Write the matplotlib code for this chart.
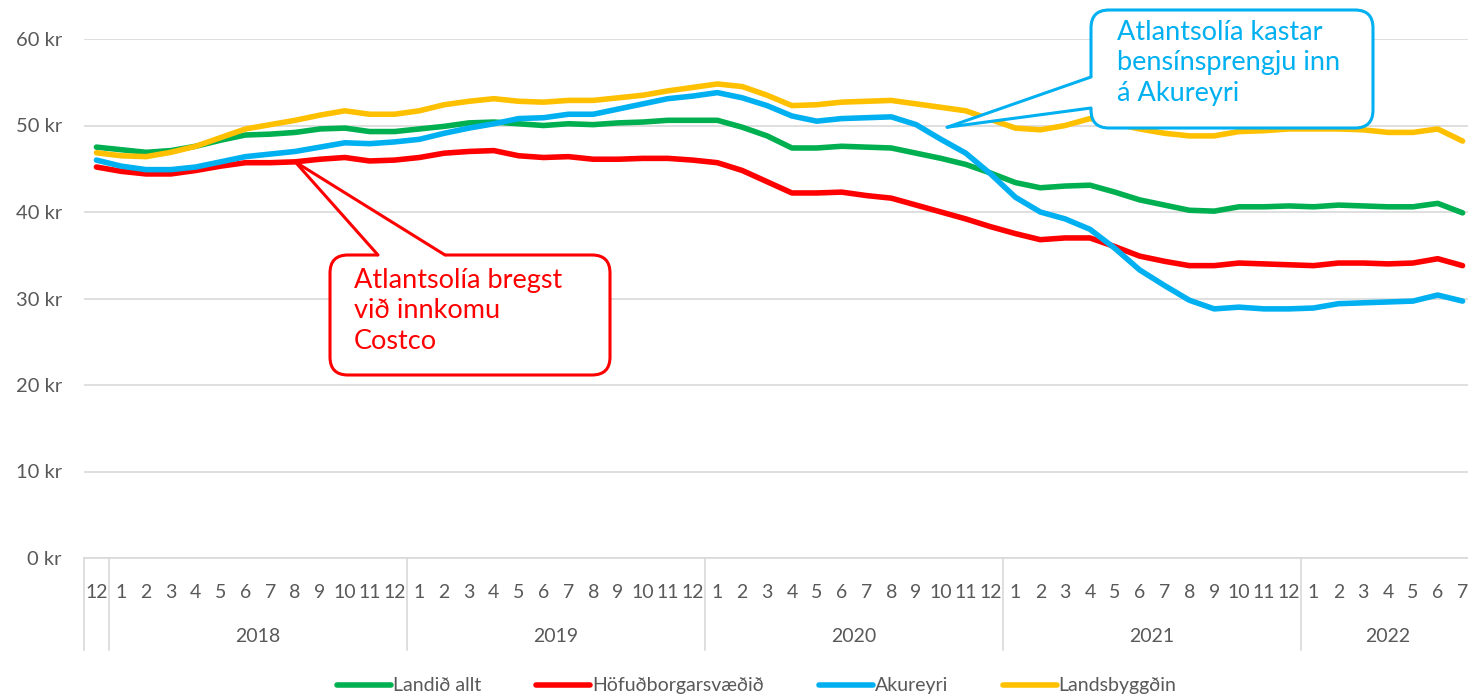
import matplotlib
matplotlib.use('Agg')
import matplotlib.pyplot as plt
import matplotlib.transforms as mtransforms
from matplotlib.patches import FancyBboxPatch, Polygon
from matplotlib.lines import Line2D

plt.rcParams['font.family'] = ['Lato', 'DejaVu Sans']

# ---------------- data ----------------
months = ['12'] + [str(m) for m in range(1, 13)] * 4 + [str(m) for m in range(1, 8)]
years = ['', '2018', '2019', '2020', '2021', '2022']
year_sizes = [1, 12, 12, 12, 12, 7]

landid_allt = [47.5, 47.2, 46.9, 47.1, 47.6, 48.3, 48.9, 49.0, 49.2, 49.6, 49.7, 49.3, 49.3,
               49.6, 49.9, 50.3, 50.4, 50.2, 50.0, 50.2, 50.1, 50.3, 50.4, 50.6, 50.6,
               50.6, 49.8, 48.8, 47.4, 47.4, 47.6, 47.5, 47.4, 46.8, 46.2, 45.5, 44.5,
               43.4, 42.8, 43.0, 43.1, 42.3, 41.4, 40.8, 40.2, 40.1, 40.6, 40.6, 40.7,
               40.6, 40.8, 40.7, 40.6, 40.6, 41.0, 39.9]
hofudborgarsvaedid = [45.2, 44.7, 44.4, 44.4, 44.8, 45.3, 45.7, 45.7, 45.8, 46.1, 46.3, 45.9, 46.0,
                      46.3, 46.8, 47.0, 47.1, 46.5, 46.3, 46.4, 46.1, 46.1, 46.2, 46.2, 46.0,
                      45.7, 44.8, 43.5, 42.2, 42.2, 42.3, 41.9, 41.6, 40.8, 40.0, 39.2, 38.3,
                      37.5, 36.8, 37.0, 37.0, 36.0, 34.9, 34.3, 33.8, 33.8, 34.1, 34.0, 33.9,
                      33.8, 34.1, 34.1, 34.0, 34.1, 34.6, 33.8]
akureyri = [46.0, 45.3, 44.9, 44.9, 45.2, 45.8, 46.4, 46.7, 47.0, 47.5, 48.0, 47.9, 48.1,
            48.4, 49.1, 49.7, 50.2, 50.8, 50.9, 51.3, 51.3, 51.9, 52.5, 53.1, 53.4,
            53.8, 53.2, 52.3, 51.1, 50.5, 50.8, 50.9, 51.0, 50.1, 48.4, 46.8, 44.4,
            41.7, 40.0, 39.2, 38.0, 35.8, 33.3, 31.5, 29.8, 28.8, 29.0, 28.8, 28.8,
            28.9, 29.4, 29.5, 29.6, 29.7, 30.4, 29.7]
landsbyggdin = [46.85, 46.5, 46.4, 46.9, 47.6, 48.6, 49.6, 50.1, 50.6, 51.2, 51.7, 51.3, 51.3,
                51.7, 52.4, 52.8, 53.1, 52.8, 52.7, 52.9, 52.9, 53.2, 53.5, 54.0, 54.4,
                54.8, 54.5, 53.5, 52.3, 52.4, 52.7, 52.8, 52.9, 52.5, 52.1, 51.7, 50.7,
                49.7, 49.5, 50.0, 50.8, 50.2, 49.6, 49.1, 48.8, 48.8, 49.3, 49.4, 49.6,
                49.6, 49.6, 49.5, 49.2, 49.2, 49.6, 48.2]

series_names = ['Landið allt', 'Höfuðborgarsvæðið', 'Akureyri', 'Landsbyggðin']
series_values = [landid_allt, hofudborgarsvaedid, akureyri, landsbyggdin]
series_colors = ['#00B050', '#FF0000', '#00B0F0', '#FFC000']

yticks = [0, 10, 20, 30, 40, 50, 60]
ytick_labels = ['0 kr', '10 kr', '20 kr', '30 kr', '40 kr', '50 kr', '60 kr']

note_red = 'Atlantsolía bregst\nvið innkomu\nCostco'
note_blue = 'Atlantsolía kastar\nbensínsprengju inn\ná Akureyri'

# ---------------- figure ----------------
W, H = 1468, 698
fig = plt.figure(figsize=(W / 100, H / 100), dpi=100)
ax = fig.add_axes([84 / W, (H - 558) / H, (1475 - 84) / W, (558 - 39) / H])

x = list(range(len(months)))
handles = []
for i, (name, vals, col) in enumerate(zip(series_names, series_values, series_colors)):
    ln, = ax.plot(x, vals, color=col, lw=4, solid_joinstyle='round',
                  solid_capstyle='round', zorder=3 + i, label=name)
    handles.append(ln)

ax.set_xlim(-0.5, len(months) - 0.5)
ax.set_ylim(0, 60)
ax.set_yticks(yticks)
ax.set_yticklabels(ytick_labels)
ax.grid(axis='y', color='#D9D9D9', lw=1.2, zorder=0)
ax.set_axisbelow(True)
for s in ['top', 'right', 'left']:
    ax.spines[s].set_visible(False)
ax.spines['bottom'].set_color('#D9D9D9')
ax.spines['bottom'].set_linewidth(1.2)
ax.tick_params(axis='y', length=0, pad=16, labelsize=14.5, labelcolor='#595959')
ax.set_xticks(x)
ax.set_xticklabels(months)
ax.tick_params(axis='x', length=0, pad=19, labelsize=14, labelcolor='#595959')

# year grouping
trans = mtransforms.blended_transform_factory(ax.transData, ax.transAxes)
start = -0.5
bounds = [start]
for yname, n in zip(years, year_sizes):
    end = start + n
    bounds.append(end)
    if yname:
        ax.text((start + end) / 2, -0.151, yname, transform=trans, ha='center',
                va='center', fontsize=14, color='#595959', clip_on=False)
    start = end
for b in bounds:
    ax.plot([b, b], [0, -0.177], transform=trans, color='#D9D9D9', lw=1.2,
            clip_on=False, zorder=1)

# legend
leg = ax.legend(handles=handles, loc='center', bbox_to_anchor=(0.4838, -0.2466),
                ncol=4, frameon=False, fontsize=14, handlelength=2.75,
                handletextpad=0.1, columnspacing=2.85)
for t in leg.get_texts():
    t.set_color('#595959')

# ---------------- callouts (figure pixel coordinates, top-left origin) ----------------
pxT = mtransforms.Affine2D().scale(1 / W, -1 / H).translate(0, 1) + fig.transFigure


def data_to_px(xd, yd):
    dx, dy = ax.transData.transform((xd, yd))
    return dx, H - dy


def callout(tip, box, base1, base2, color, text, text_xy):
    x0, y0, x1, y1 = box
    patch = FancyBboxPatch((x0, y0), x1 - x0, y1 - y0,
                           boxstyle='round,pad=0,rounding_size=18',
                           transform=pxT, facecolor='white', edgecolor=color,
                           lw=2.2, zorder=10, clip_on=False)
    fig.add_artist(patch)
    # hide border where the pointer joins the box
    if base1[1] == base2[1]:
        pts = [tip, base1, (base1[0], base1[1] + 4), (base2[0], base2[1] + 4), base2]
    else:
        pts = [tip, base1, (base1[0] + 4, base1[1]), (base2[0] + 4, base2[1]), base2]
    fig.add_artist(Polygon(pts, closed=True, transform=pxT, facecolor='white',
                           edgecolor='none', zorder=11, clip_on=False))
    for b in (base1, base2):
        fig.add_artist(Line2D([tip[0], b[0]], [tip[1], b[1]], transform=pxT,
                              color=color, lw=2.2, zorder=12, clip_on=False,
                              solid_capstyle='round'))
    fig.text(text_xy[0] / W, 1 - text_xy[1] / H, text, color=color, fontsize=19.5,
             ha='left', va='top', linespacing=1.27, zorder=13)


tip_red = data_to_px(8, hofudborgarsvaedid[8])
callout(tip_red, (330, 255, 610, 375), (378, 255), (445, 255), '#FF0000',
        note_red, (354, 268))

tip_blue = data_to_px(34.25, 49.8)
callout(tip_blue, (1091, 10, 1373, 128), (1091, 77), (1091, 108), '#00B0F0',
        note_blue, (1117, 20))

fig.savefig('out.png', dpi=100)
